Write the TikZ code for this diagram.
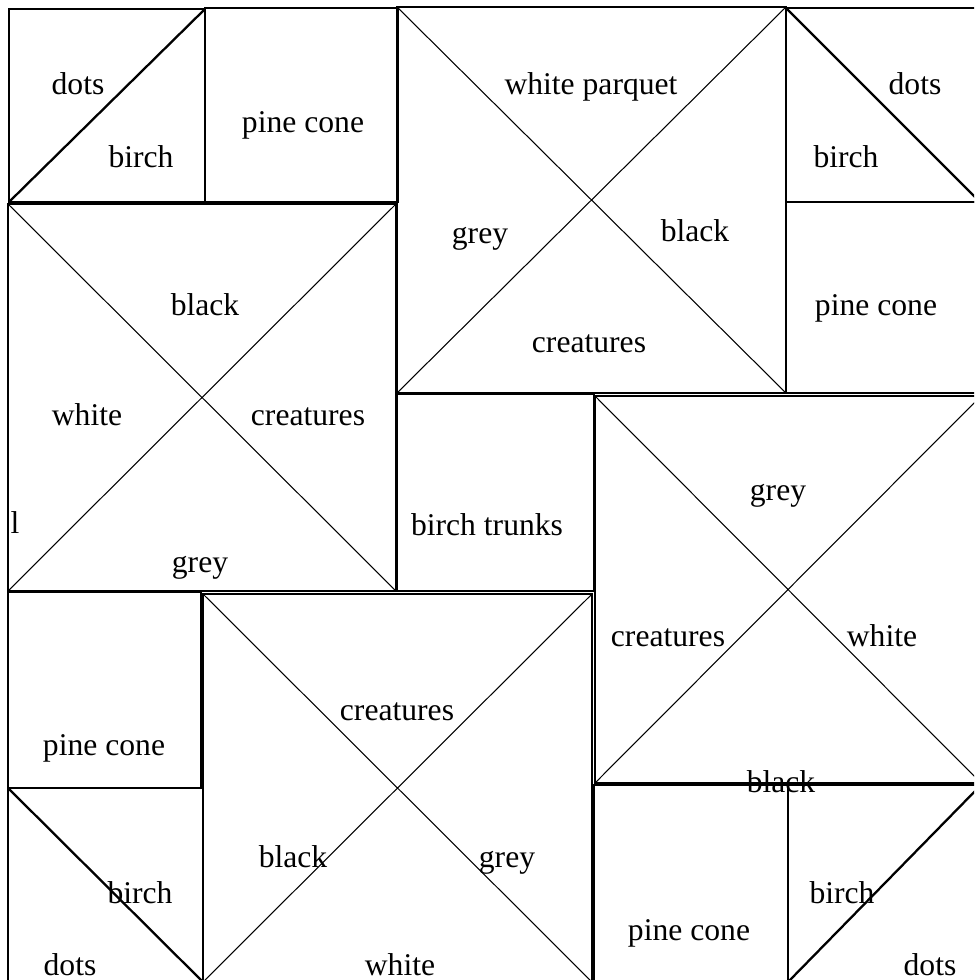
\documentclass[tikz,border=0pt]{standalone}
\usepackage{fontspec}
\setmainfont{Liberation Serif}
\begin{document}
\begin{tikzpicture}[x=0.02cm,y=-0.02cm,
  box/.style={draw=black,line width=1.5pt},
  diag/.style={draw=black,line width=0.6pt},
  tdiag/.style={draw=black,line width=1.3pt},
  lab/.style={anchor=mid,inner sep=0pt,yshift=-3.4pt,font=\fontsize{18}{21}\selectfont}]
\useasboundingbox[fill=white] (0,0) rectangle (974,980);
\clip (0,0) rectangle (974,980);
% top-left triangle square
\draw[box] (9,9) rectangle (205,202);
\draw[tdiag] (9,202) -- (205,9);
\node[lab] (tl1) at (78,84) {dots};
\node[lab] (tl2) at (141,157) {birch};
% pine cone 1
\draw[box] (205,8) rectangle (398,202);
\node[lab] (p1) at (303,122) {pine cone};
% big X 1
\draw[box] (397,7) rectangle (786,393);
\draw[diag] (397,7) -- (786,393) (786,7) -- (397,393);
\node[lab] (x1a) at (591,84) {white parquet};
\node[lab] (x1b) at (480,233) {grey};
\node[lab] (x1c) at (695,231) {black};
\node[lab] (x1d) at (589,342) {creatures};
% top-right triangle square
\draw[box] (786,8) rectangle (980,202);
\draw[tdiag] (786,8) -- (980,202);
\node[lab] (tr1) at (915,84) {dots};
\node[lab] (tr2) at (846,157) {birch};
% pine cone 2
\draw[box] (786,202) rectangle (980,393);
\node[lab] (p2) at (876,305) {pine cone};
% big X 2
\draw[box] (8,204) rectangle (396,591);
\draw[diag] (8,204) -- (396,591) (396,204) -- (8,591);
\node[lab] (x2a) at (205,305) {black};
\node[lab] (x2b) at (87,415) {white};
\node[lab] (x2c) at (308,415) {creatures};
\node[lab] (x2d) at (200,562) {grey};
\node[lab] (x2e) at (15,523) {l};
% birch trunks
\draw[box] (397,394) rectangle (594,591);
\node[lab] (bt) at (487,525) {birch trunks};
% big X 3
\draw[box] (595,396) rectangle (981,783);
\draw[diag] (595,396) -- (981,783) (981,396) -- (595,783);
\node[lab] (x3a) at (778,490) {grey};
\node[lab] (x3b) at (668,636) {creatures};
\node[lab] (x3c) at (882,636) {white};
% pine cone 3
\draw[box] (8,592) rectangle (201,788);
\node[lab] (p3) at (104,745) {pine cone};
% big X 4
\draw[box] (203,594) rectangle (592,982);
\draw[diag] (203,594) -- (592,982) (592,594) -- (203,982);
\node[lab] (x4a) at (397,710) {creatures};
\node[lab] (x4b) at (293,857) {black};
\node[lab] (x4c) at (507,857) {grey};
\node[lab] (x4d) at (400,965) {white};
% bottom-left triangle square
\draw[box] (8,788) rectangle (203,982);
\draw[tdiag] (8,788) -- (203,982);
\node[lab] (bl1) at (140,893) {birch};
\node[lab] (bl2) at (70,965) {dots};
% pine cone 4
\draw[box] (594,785) rectangle (788,982);
\node[lab] (p4) at (689,930) {pine cone};
% bottom-right triangle square
\draw[box] (788,785) rectangle (981,982);
\draw[tdiag] (788,982) -- (981,785);
\node[lab] (br1) at (842,893) {birch};
\node[lab] (br2) at (930,965) {dots};
% label over the border
\node[lab] (x3d) at (781,782) {black};
\end{tikzpicture}
\end{document}
